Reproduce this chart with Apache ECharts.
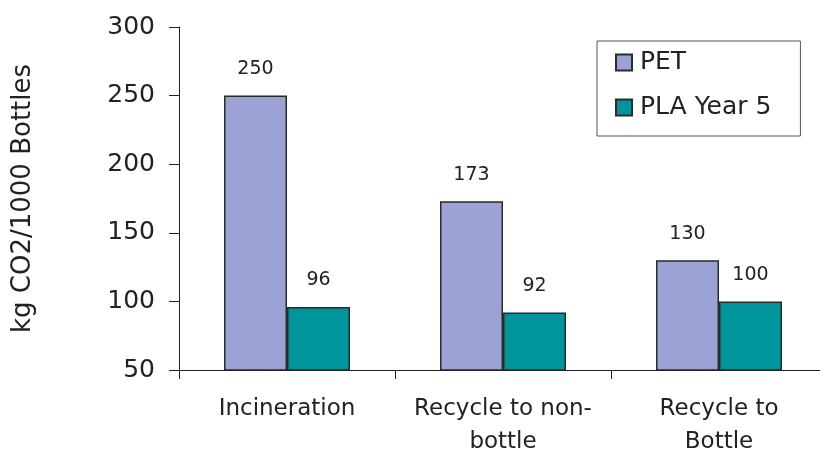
<!DOCTYPE html>
<html><head><meta charset="utf-8">
<script src="https://cdn.jsdelivr.net/npm/echarts@6/dist/echarts.min.js"></script>
<style>html,body{margin:0;padding:0;background:#fff}#c{width:820px;height:453px}</style>
</head><body><div id="c"></div>
<script>
const categories = ['Incineration', 'Recycle to non-\nbottle', 'Recycle to\nBottle'];
const petValues = [250, 173, 130];
const plaValues = [96, 92, 100];
const seriesNames = ['PET', 'PLA Year 5'];
const yTicks = {min: 50, max: 300, interval: 50};

const chart = echarts.init(document.getElementById('c'), null, {renderer: 'canvas'});
const font = 'DejaVu Sans, Arial, sans-serif';
const labelCfg = {show: true, position: 'top', distance: 17, fontSize: 19, color: '#222', fontFamily: font};
chart.setOption({
  animation: false,
  textStyle: {fontFamily: font},
  grid: {left: 179, top: 27, width: 648, height: 343, containLabel: false, outerBoundsMode: 'none'},
  legend: {
    orient: 'vertical', left: 597, top: 41,
    padding: [9, 29, 16, 18], itemGap: 20, itemWidth: 16, itemHeight: 16,
    icon: 'rect',
    borderColor: '#555', borderWidth: 1,
    textStyle: {fontSize: 25, color: '#222', fontFamily: font, padding: [0,0,0,3], lineHeight: 25},
    data: seriesNames
  },
  xAxis: {
    type: 'category', data: categories,
    axisLine: {lineStyle: {color: '#222', width: 1}},
    axisTick: {show: true, length: 9, interval: 0, lineStyle: {color: '#222'}},
    axisLabel: {fontSize: 23, color: '#222', margin: 23, lineHeight: 33, interval: 0, hideOverlap: false, fontFamily: font}
  },
  yAxis: {
    type: 'value', min: yTicks.min, max: yTicks.max, interval: yTicks.interval,
    name: 'kg CO2/1000 Bottles', nameLocation: 'middle', nameGap: 143,
    nameTextStyle: {fontSize: 26, color: '#222', fontFamily: font},
    axisLine: {show: true, lineStyle: {color: '#222', width: 1}},
    axisTick: {show: true, length: 10, lineStyle: {color: '#222'}},
    axisLabel: {fontSize: 25, color: '#222', margin: 24, fontFamily: font},
    splitLine: {show: false}
  },
  series: [
    {name: seriesNames[0], type: 'bar', data: petValues, barWidth: 63, barGap: '0%',
     itemStyle: {color: '#9ba3d4', borderColor: '#2a2a2a', borderWidth: 1.5}, label: labelCfg},
    {name: seriesNames[1], type: 'bar', data: plaValues, barWidth: 63, barGap: '0%',
     itemStyle: {color: '#00959b', borderColor: '#2a2a2a', borderWidth: 1.5}, label: labelCfg}
  ]
});
</script></body></html>
